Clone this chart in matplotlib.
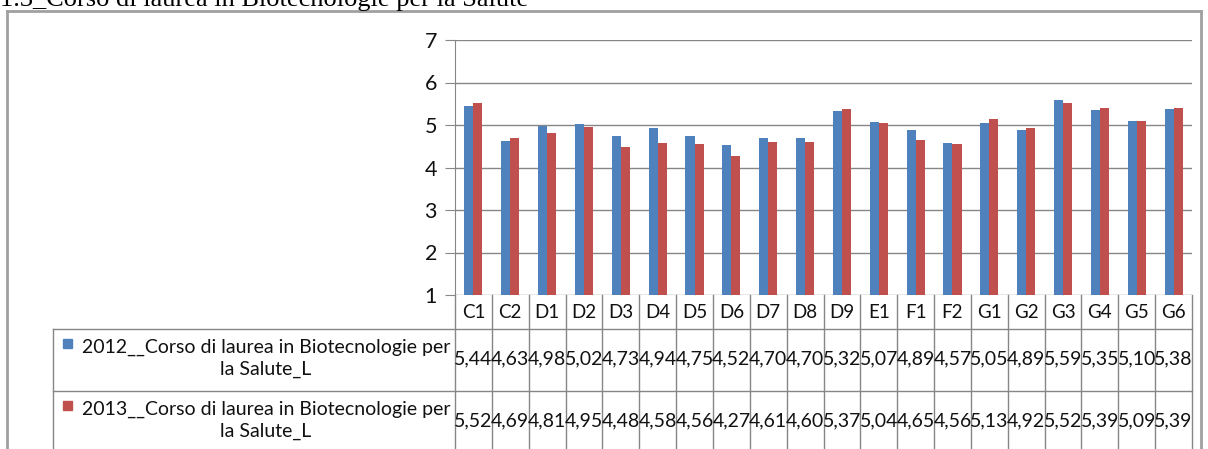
import matplotlib.pyplot as plt
from matplotlib.transforms import blended_transform_factory
from matplotlib.patches import Rectangle

categories = ['C1', 'C2', 'D1', 'D2', 'D3', 'D4', 'D5', 'D6', 'D7', 'D8',
              'D9', 'E1', 'F1', 'F2', 'G1', 'G2', 'G3', 'G4', 'G5', 'G6']
v2012 = [5.44, 4.63, 4.98, 5.02, 4.73, 4.94, 4.75, 4.52, 4.70, 4.70,
         5.32, 5.07, 4.89, 4.57, 5.05, 4.89, 5.59, 5.35, 5.10, 5.38]
v2013 = [5.52, 4.69, 4.81, 4.95, 4.48, 4.58, 4.56, 4.27, 4.61, 4.60,
         5.37, 5.04, 4.65, 4.56, 5.13, 4.92, 5.52, 5.39, 5.09, 5.39]
series_names = ['2012__Corso di laurea in Biotecnologie per\nla Salute_L',
                '2013__Corso di laurea in Biotecnologie per\nla Salute_L']
title = '1.3_Corso di laurea in Biotecnologie per la Salute'

W, H = 1208, 449
blue = '#4F81BD'
red = '#C0504D'
grid = '#868686'
txt = '#111111'
plt.rcParams['font.family'] = ['Lato', 'DejaVu Sans']

def fx(px):
    return px / W

def fy(py):
    return 1 - py / H

fig = plt.figure(figsize=(W / 100, H / 100), dpi=100)

# outer frame (cut at the bottom)
fig.add_artist(plt.Line2D([fx(7), fx(7)], [fy(11), 0], color='#A0A0A0', lw=2))
fig.add_artist(plt.Line2D([fx(7), fx(1201)], [fy(11), fy(11)], color='#A0A0A0', lw=2))
fig.add_artist(plt.Line2D([fx(1201), fx(1201)], [fy(11), 0], color='#A0A0A0', lw=2))

# title, only its lower part shows in the picture
fig.text(fx(0), fy(6), title, family='Liberation Serif', fontsize=19,
         va='baseline', ha='left', color='black')

ax = fig.add_axes([fx(455), fy(295), fx(1192) - fx(455), fy(40) - fy(295)])
n = len(categories)
x = list(range(n))
w = 0.245
ax.bar([i - w / 2 for i in x], v2012, width=w, color=blue, zorder=3)
ax.bar([i + w / 2 for i in x], v2013, width=w, color=red, zorder=3)
ax.set_xlim(-0.5, n - 0.5)
ax.set_ylim(1, 7)
ax.set_yticks(range(1, 8))
ax.yaxis.grid(True, color=grid, lw=1, zorder=0)
ax.set_xticks([])
for s in ['top', 'right', 'bottom']:
    ax.spines[s].set_visible(False)
ax.spines['left'].set_color(grid)
ax.tick_params(axis='y', length=7, color=grid, pad=6, labelsize=15.5,
               labelcolor=txt)
ax.set_facecolor('none')

# data table under the axes
tr = blended_transform_factory(ax.transData, fig.transFigure)
for i in range(n + 1):
    ax.add_line(plt.Line2D([i - 0.5, i - 0.5], [fy(295), 0], transform=tr,
                           color=grid, lw=1, clip_on=False))
for i, c in enumerate(categories):
    ax.text(i, fy(312), c, transform=tr, ha='center', va='center',
            fontsize=13.5, color=txt)

row_tops = [329, 391]
for py in row_tops:
    fig.add_artist(plt.Line2D([fx(53), fx(1192)], [fy(py), fy(py)],
                              color=grid, lw=1))
fig.add_artist(plt.Line2D([fx(53), fx(53)], [fy(329), 0], color=grid, lw=1))

for r, (vals, name, col) in enumerate(zip([v2012, v2013], series_names, [blue, red])):
    top = row_tops[r]
    for i, v in enumerate(vals):
        ax.text(i, fy(top + 30), f'{v:.2f}'.replace('.', ','), transform=tr,
                ha='center', va='center', fontsize=14, color=txt)
    fig.text(fx(266), fy(top + 29), name, ha='center', va='center',
             fontsize=14, color=txt, linespacing=1.35)
    fig.add_artist(Rectangle((fx(63), fy(top + 19)), fx(9), fy(0) - fy(9),
                             color=col, transform=fig.transFigure))

fig.savefig('out.png', dpi=100)
